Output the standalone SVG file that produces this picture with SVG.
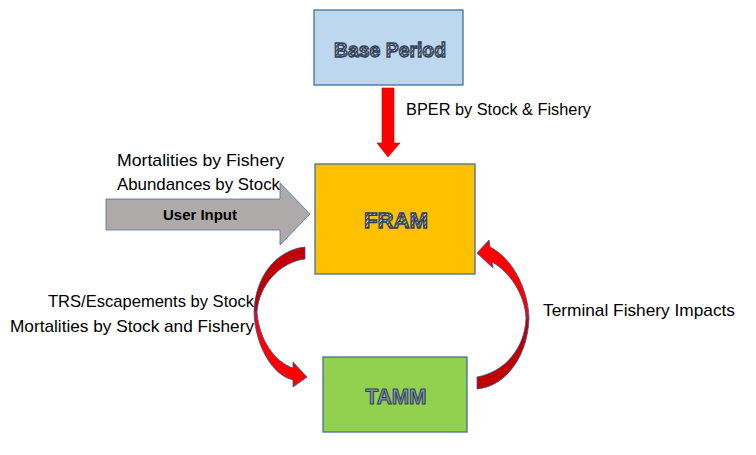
<svg xmlns="http://www.w3.org/2000/svg" width="756" height="455" viewBox="0 0 756 455">
<defs>
<pattern id="hatch" patternUnits="userSpaceOnUse" width="3" height="3" patternTransform="rotate(45)">
<rect width="3" height="3" fill="#D9DEE8"/>
<rect width="1.6" height="3" fill="#34425E"/>
</pattern>
</defs>
<style>
.box{stroke:#41719C;stroke-width:1.3}
.lbl{font-family:"Liberation Sans",Arial,sans-serif;font-size:17px;fill:#000}
.fancy{font-family:"Liberation Sans",Arial,sans-serif;font-weight:bold;fill:url(#hatch);stroke:#323F55;stroke-width:1.3;text-anchor:middle}
.edge{stroke:#2F5597;stroke-width:0.8;stroke-linejoin:round}
</style>
<rect width="756" height="455" fill="#fff"/>
<g id="base-period">
<rect class="box" x="314" y="10" width="149" height="75" fill="#BDD7EE"/>
<text class="fancy" x="390" y="57" font-size="20" textLength="112" lengthAdjust="spacingAndGlyphs">Base Period</text>
</g>
<g id="fram">
<rect class="box" x="315" y="164" width="160" height="110" fill="#FFC000"/>
<text class="fancy" x="396" y="228" font-size="22" textLength="64" lengthAdjust="spacingAndGlyphs">FRAM</text>
</g>
<g id="tamm">
<rect class="box" x="323" y="357" width="144" height="75" fill="#92D050"/>
<text x="396" y="404" font-size="22" font-family="Liberation Sans,Arial,sans-serif" font-weight="bold" fill="#8496B0" stroke="#323F55" stroke-width="1.1" text-anchor="middle" textLength="61" lengthAdjust="spacingAndGlyphs">TAMM</text>
</g>
<g id="user-input">
<path d="M106,199 L280,199 L280,183 L310,214 L280,245 L280,230 L106,230 Z" fill="#AEAAAA" stroke="#4F71A0" stroke-width="0.8"/>
<text x="200" y="220" font-family="Liberation Sans,Arial,sans-serif" font-size="15" font-weight="bold" fill="#000" text-anchor="middle" textLength="74" lengthAdjust="spacingAndGlyphs">User Input</text>
</g>
<g id="connectors">
<path d="M382,88 L394,88 L394,143 L400,143 L388,157 L377,143 L382,143 Z" fill="#FF0000" stroke="#C00000" stroke-width="0.6"/>
<path class="edge" d="M305,247 C276,250 255,277 254,312 L257,312 C259,285 280,262 305,259 Z" fill="#C00000"/>
<path class="edge" d="M254,312 C255,345 272,375 293,380 L293,387 L307,377 L293,362 L293,368 C275,362 259,340 257,312 Z" fill="#FF0000"/>
<path class="edge" d="M477,389 C507,386 528,355 529,318 L526,318 C525,348 505,372 477,377 Z" fill="#C00000"/>
<path class="edge" d="M529,318 C528,288 512,258 490,247 L489,240 L477,253 L493,268 L492,262 C510,272 525,295 526,318 Z" fill="#FF0000"/>
</g>
<g id="labels">
<text class="lbl" x="406" y="115" textLength="185" lengthAdjust="spacingAndGlyphs">BPER by Stock &amp; Fishery</text>
<text class="lbl" x="117" y="166" textLength="167" lengthAdjust="spacingAndGlyphs">Mortalities by Fishery</text>
<text class="lbl" x="117" y="190" textLength="163" lengthAdjust="spacingAndGlyphs">Abundances by Stock</text>
<text class="lbl" x="48" y="307" textLength="206" lengthAdjust="spacingAndGlyphs">TRS/Escapements by Stock</text>
<text class="lbl" x="10" y="332" textLength="244" lengthAdjust="spacingAndGlyphs">Mortalities by Stock and Fishery</text>
<text class="lbl" x="543" y="316" textLength="192" lengthAdjust="spacingAndGlyphs">Terminal Fishery Impacts</text>
</g>
</svg>
